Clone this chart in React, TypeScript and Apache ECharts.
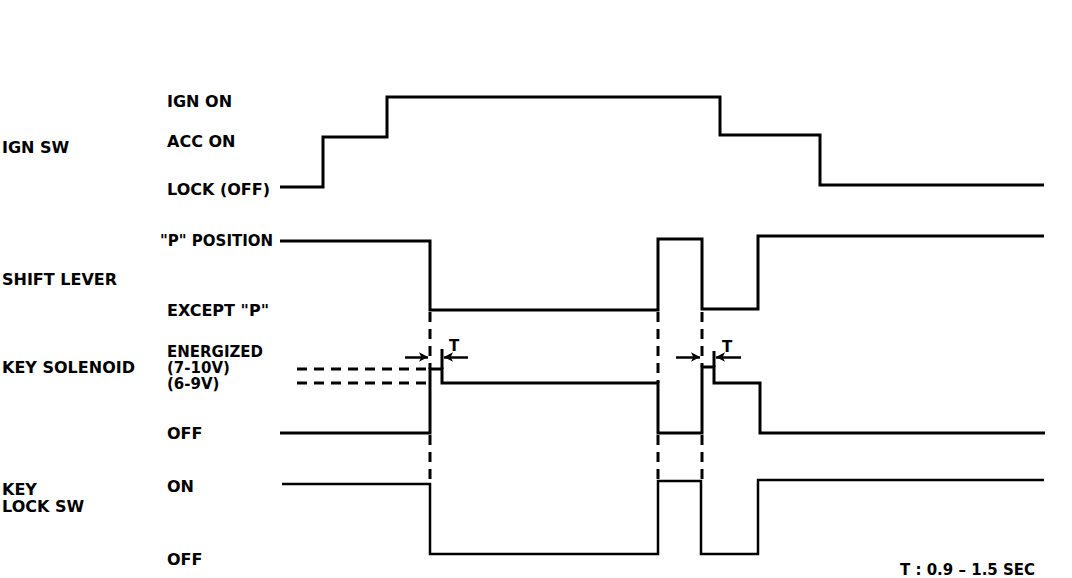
import React, { useEffect, useRef } from "react";
import * as echarts from "echarts";

// ---- time axis (horizontal) and signal levels (vertical), in diagram units ----
// IGN SW
const ignTimes = [280, 323, 387, 720, 820, 1044];
const ignLevels = [187, 137, 97, 135, 185, 185];
// SHIFT LEVER
const shiftTimes = [280, 430, 658, 702, 758, 1044];
const shiftLevels = [241, 310, 239, 309, 236, 236];
// KEY SOLENOID
const solTimes = [280, 430, 442, 658, 702, 714, 760, 1045];
const solLevels = [433, 369, 383, 433, 367, 383, 433, 433];
// KEY LOCK SW
const lockTimes = [282, 430, 658, 701, 758, 1044];
const lockLevels = [484, 554, 481, 554, 480, 480];

// dashed reference segments: [t1, level1, t2, level2]
const dashedSegs = [
  [297, 369, 428, 369],
  [297, 383, 428, 383],
  [430, 312, 430, 369],
  [430, 435, 430, 484],
  [658, 312, 658, 383],
  [658, 435, 658, 481],
  [702, 312, 702, 367],
  [702, 435, 702, 481],
];
// solid T reference ticks
const tickSegs = [
  [442, 349, 442, 369],
  [714, 351, 714, 367],
];
// T arrows: [fromT, toT, level]
const arrows = [
  [405, 428, 357],
  [468, 444, 357],
  [676, 700, 357],
  [741, 716, 357],
];

const rowLabels = [
  { text: "IGN SW", x: 2, y: 147, size: 16 },
  { text: "SHIFT LEVER", x: 2, y: 279, size: 16 },
  { text: "KEY SOLENOID", x: 2, y: 367, size: 16 },
  { text: "KEY", x: 2, y: 489, size: 16 },
  { text: "LOCK SW", x: 2, y: 506, size: 16 },
];
const stateLabels = [
  { text: "IGN ON", x: 167, y: 101, size: 16 },
  { text: "ACC ON", x: 167, y: 141, size: 16 },
  { text: "LOCK (OFF)", x: 167, y: 189, size: 16 },
  { text: "\"P\" POSITION", x: 160, y: 241, size: 15 },
  { text: "EXCEPT \"P\"", x: 167, y: 310, size: 16 },
  { text: "ENERGIZED", x: 167, y: 352, size: 15 },
  { text: "(7-10V)", x: 167, y: 368, size: 15 },
  { text: "(6-9V)", x: 167, y: 384, size: 15 },
  { text: "OFF", x: 167, y: 433, size: 16 },
  { text: "ON", x: 167, y: 486, size: 16 },
  { text: "OFF", x: 167, y: 559, size: 16 },
];

const zip = (t: number[], l: number[]) => t.map((v, i) => [v, l[i]]);
const FAMILY = '"DejaVu Sans", "Liberation Sans", Arial, sans-serif';

export default function App() {
  const ref = useRef<HTMLDivElement>(null);
  useEffect(() => {
    if (!ref.current) return;
    const chart = echarts.init(ref.current, null, { renderer: "svg" });
    const black = "#000";
    const stepSeries = (name: string, t: number[], l: number[], w: number) => ({
      name,
      type: "line",
      step: "end",
      data: zip(t, l),
      symbol: "none",
      silent: true,
      lineStyle: { color: black, width: w, join: "miter", cap: "butt" },
    });
    const segSeries = (s: number[], dashed: boolean, idx: number) => ({
      name: (dashed ? "dash" : "tick") + idx,
      type: "line",
      data: [
        [s[0], s[1]],
        [s[2], s[3]],
      ],
      symbol: "none",
      silent: true,
      lineStyle: {
        color: black,
        width: 3,
        type: dashed ? [10, 7] : "solid",
      },
    });
    const texts = [...rowLabels, ...stateLabels].map((d) => ({
      type: "text",
      x: d.x,
      y: d.y,
      style: {
        text: d.text,
        font: `bold ${d.size}px ${FAMILY}`,
        fill: black,
        verticalAlign: "middle",
        align: "left",
      },
    }));
    const option = {
      animation: false,
      grid: { left: 0, right: 0, top: 0, bottom: 0 },
      xAxis: { type: "value", min: 0, max: 1072, show: false },
      yAxis: { type: "value", min: 0, max: 578, inverse: true, show: false },
      series: [
        stepSeries("IGN SW", ignTimes, ignLevels, 3),
        stepSeries("SHIFT LEVER", shiftTimes, shiftLevels, 3),
        stepSeries("KEY SOLENOID", solTimes, solLevels, 3),
        stepSeries("KEY LOCK SW", lockTimes, lockLevels, 2.5),
        ...dashedSegs.map((s, i) => segSeries(s, true, i)),
        ...tickSegs.map((s, i) => segSeries(s, false, i)),
        {
          name: "T arrows",
          type: "line",
          data: [],
          silent: true,
          markLine: {
            silent: true,
            symbol: ["none", "arrow"],
            symbolSize: [7, 9],
            label: { show: false },
            lineStyle: { color: black, width: 2.5, type: "solid" },
            data: arrows.map((a) => [{ coord: [a[0], a[2]] }, { coord: [a[1], a[2]] }]),
          },
        },
      ],
      graphic: [
        ...texts,
        {
          type: "text",
          x: 449,
          y: 346,
          style: { text: "T", font: `bold 15px ${FAMILY}`, fill: black, verticalAlign: "middle" },
        },
        {
          type: "text",
          x: 722,
          y: 347,
          style: { text: "T", font: `bold 15px ${FAMILY}`, fill: black, verticalAlign: "middle" },
        },
        {
          type: "text",
          x: 900,
          y: 570,
          style: { text: "T : 0.9 – 1.5 SEC", font: `bold 15px ${FAMILY}`, fill: black, verticalAlign: "middle" },
        },
      ],
    };
    chart.setOption(option as any);
    return () => chart.dispose();
  }, []);
  return (
    <div
      ref={ref}
      style={{ position: "absolute", left: 0, top: 0, width: 1072, height: 578, background: "#fff" }}
    />
  );
}
